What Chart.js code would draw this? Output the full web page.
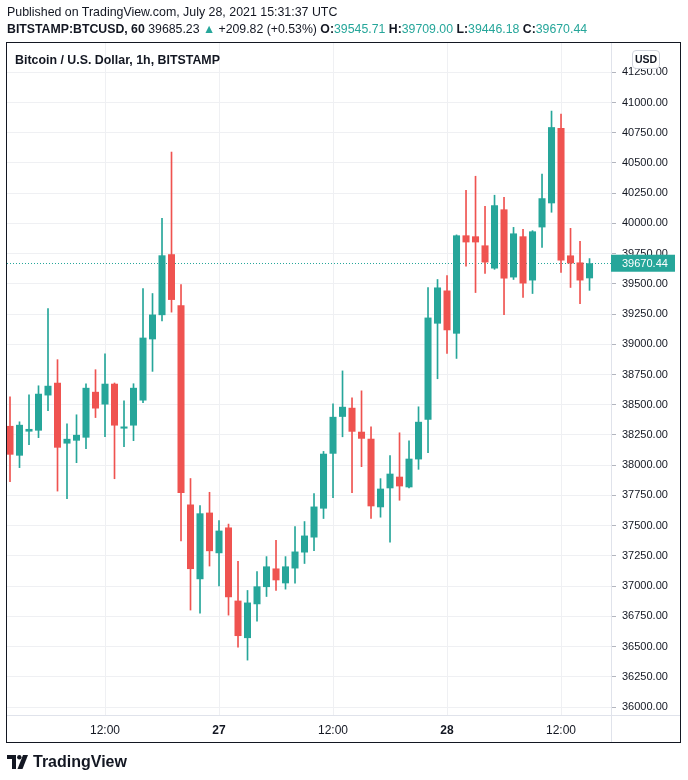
<!DOCTYPE html>
<html>
<head>
<meta charset="utf-8">
<script src="https://cdn.jsdelivr.net/npm/chart.js@4.4.0/dist/chart.umd.min.js"></script>
<style>
  html, body { margin: 0; padding: 0; background: #fff; }
  #wrap { position: relative; width: 688px; height: 780px; overflow: hidden;
          font-family: "Liberation Sans", Arial, sans-serif; color: #131722; }
  #chart { position: absolute; left: 0; top: 0; }
  .line1 { position: absolute; left: 7px; top: 4px; font-size: 12.4px; line-height: 16px; white-space: nowrap; }
  .line2 { position: absolute; left: 7px; top: 21px; font-size: 12.3px; line-height: 16px; white-space: nowrap; }
  .up { color: #26a69a; }
  #frame { position: absolute; left: 6px; top: 42px; width: 673px; height: 699px;
           border: 1px solid #131722; pointer-events: none; }
  .title { position: absolute; left: 15px; top: 52px; font-size: 12.4px; line-height: 16px; font-weight: bold; }
  .usd { position: absolute; left: 632px; top: 50px; width: 26px; height: 17px; border: 1px solid #d1d4dc;
         border-radius: 4px; font-size: 10.5px; font-weight: bold; text-align: center; line-height: 17px; background: #fff; }
  .logo { position: absolute; left: 7px; top: 752px; height: 20px; font-size: 16px; font-weight: bold;
          display: flex; align-items: center; gap: 4px; }
</style>
</head>
<body>
<div id="wrap">
  <canvas id="chart" width="688" height="780"></canvas>
  <div class="line1">Published on TradingView.com, July 28, 2021 15:31:37 UTC</div>
  <div class="line2"><b>BITSTAMP:BTCUSD, 60</b> 39685.23 <span class="up">&#9650;</span> +209.82 (+0.53%) <b>O:</b><span class="up">39545.71</span> <b>H:</b><span class="up">39709.00</span> <b>L:</b><span class="up">39446.18</span> <b>C:</b><span class="up">39670.44</span></div>
  <div id="frame"></div>
  <div class="title">Bitcoin / U.S. Dollar, 1h, BITSTAMP</div>
  <div class="usd">USD</div>
  <div class="logo">
    <svg width="22" height="14" viewBox="0 0 22 14"><path d="M0 0h9v14h-4v-10h-5z" fill="#131722"/><circle cx="12.3" cy="2.2" r="2.2" fill="#131722"/><path d="M16 0h5l-5.5 14h-5z" fill="#131722"/></svg>
    <span>TradingView</span>
  </div>
</div>
<script>
// hourly candles, BITSTAMP BTC/USD
const times = [
  'Jul 26 02:00', 'Jul 26 03:00', 'Jul 26 04:00', 'Jul 26 05:00', 'Jul 26 06:00', 'Jul 26 07:00',
  'Jul 26 08:00', 'Jul 26 09:00', 'Jul 26 10:00', 'Jul 26 11:00', 'Jul 26 12:00', 'Jul 26 13:00',
  'Jul 26 14:00', 'Jul 26 15:00', 'Jul 26 16:00', 'Jul 26 17:00', 'Jul 26 18:00', 'Jul 26 19:00',
  'Jul 26 20:00', 'Jul 26 21:00', 'Jul 26 22:00', 'Jul 26 23:00',
  'Jul 27 00:00', 'Jul 27 01:00', 'Jul 27 02:00', 'Jul 27 03:00', 'Jul 27 04:00', 'Jul 27 05:00',
  'Jul 27 06:00', 'Jul 27 07:00', 'Jul 27 08:00', 'Jul 27 09:00', 'Jul 27 10:00', 'Jul 27 11:00',
  'Jul 27 12:00', 'Jul 27 13:00', 'Jul 27 14:00', 'Jul 27 15:00', 'Jul 27 16:00', 'Jul 27 17:00',
  'Jul 27 18:00', 'Jul 27 19:00', 'Jul 27 20:00', 'Jul 27 21:00', 'Jul 27 22:00', 'Jul 27 23:00',
  'Jul 28 00:00', 'Jul 28 01:00', 'Jul 28 02:00', 'Jul 28 03:00', 'Jul 28 04:00', 'Jul 28 05:00',
  'Jul 28 06:00', 'Jul 28 07:00', 'Jul 28 08:00', 'Jul 28 09:00', 'Jul 28 10:00', 'Jul 28 11:00',
  'Jul 28 12:00', 'Jul 28 13:00', 'Jul 28 14:00', 'Jul 28 15:00'
];

const opens = [
  38325, 38079, 38278, 38286, 38577, 38682, 38179, 38203, 38228, 38607, 38502, 38674, 38303, 38328, 38535, 39041,
  39241, 39745, 39322, 37675, 37057, 37608, 37272, 37485, 36880, 36570, 36850, 36992, 37146, 37023, 37146, 37278,
  37402, 37641, 38095, 38400, 38475, 38277, 38219, 37652, 37809, 37905, 37817, 38048, 38376, 39171, 39445, 39088,
  39901, 39893, 39818, 39627, 40116, 39553, 39893, 39528, 39967, 40166, 40788, 39735, 39677, 39545.71
];
const highs = [
  38566, 38359, 38582, 38657, 39296, 38873, 38342, 38417, 38674, 38790, 38922, 38680, 38533, 38674, 39461, 39420,
  40041, 40590, 39493, 37890, 37666, 37776, 37543, 37513, 37205, 36964, 37121, 37244, 37378, 37244, 37492, 37534,
  37765, 38114, 38508, 38780, 38557, 38615, 38318, 37889, 38079, 38268, 38202, 38483, 39470, 39536, 39569, 39905,
  40274, 40390, 40141, 40233, 40216, 39967, 39951, 39940, 40407, 40929, 40904, 39959, 39851, 39709.00
];
const lows = [
  37863, 37980, 38170, 38228, 38452, 37786, 37723, 38021, 38137, 38394, 38237, 37888, 38154, 38203, 38518, 38776,
  39194, 39266, 37373, 36802, 36777, 37166, 37001, 36760, 36494, 36388, 36710, 36914, 36964, 36975, 37025, 37187,
  37294, 37559, 37732, 38235, 37773, 37988, 37559, 37570, 37363, 37710, 37812, 37966, 38103, 38715, 38925, 38883,
  39646, 39428, 39586, 39620, 39246, 39536, 39387, 39420, 39801, 40092, 39594, 39470, 39337, 39446.18
];
const closes = [
  38087, 38334, 38300, 38591, 38657, 38145, 38218, 38251, 38640, 38469, 38674, 38328, 38320, 38640, 39055, 39246,
  39736, 39367, 37770, 37141, 37602, 37289, 37459, 36908, 36587, 36864, 36998, 37163, 37048, 37163, 37286, 37418,
  37658, 38095, 38400, 38483, 38277, 38219, 37660, 37806, 37930, 37825, 38054, 38359, 39221, 39470, 39116, 39901,
  39843, 39843, 39677, 40150, 39544, 39917, 39503, 39934, 40208, 40796, 39694, 39669, 39528, 39670.44
];

const lastPrice = 39670.44;
const priceTicks = [
  36000, 36250, 36500, 36750, 37000, 37250, 37500, 37750, 38000, 38250, 38500,
  38750, 39000, 39250, 39500, 39750, 40000, 40250, 40500, 40750, 41000, 41250
];
const timeTicks = ['Jul 26 12:00', 'Jul 27 00:00', 'Jul 27 12:00', 'Jul 28 00:00', 'Jul 28 12:00'];
const timeTickLabels = ['12:00', '27', '12:00', '28', '12:00'];

const UP = '#26a69a';
const DOWN = '#ef5350';

// hours since Jul 26 00:00
function toHour(t) {
  const parts = t.split(' ');
  return (parseInt(parts[1]) - 26) * 24 + parseInt(parts[2]);
}

const xs = times.map(toHour);
const tickXs = timeTicks.map(toHour);
const colors = closes.map((c, i) => c >= opens[i] ? UP : DOWN);

const overlay = {
  id: 'overlay',
  beforeDatasetsDraw(chart) {
    const { ctx, chartArea: a, scales: { y } } = chart;
    const py = Math.round(y.getPixelForValue(lastPrice)) + 0.5;
    ctx.save();
    ctx.strokeStyle = UP;
    ctx.lineWidth = 1;
    ctx.setLineDash([1, 2]);
    ctx.beginPath();
    ctx.moveTo(a.left, py);
    ctx.lineTo(a.right, py);
    ctx.stroke();
    ctx.restore();
  },
  afterDraw(chart) {
    const { ctx, chartArea: a, scales: { y } } = chart;
    ctx.save();
    // pane separators
    ctx.strokeStyle = '#e0e3eb';
    ctx.lineWidth = 1;
    ctx.beginPath();
    ctx.moveTo(a.left, a.bottom + 0.5);
    ctx.lineTo(chart.width - 7, a.bottom + 0.5);
    ctx.moveTo(a.right + 0.5, a.top);
    ctx.lineTo(a.right + 0.5, chart.height - 37);
    ctx.stroke();
    // last price tag
    const py = y.getPixelForValue(lastPrice);
    ctx.fillStyle = UP;
    ctx.fillRect(a.right, py - 8.5, 64, 17);
    ctx.fillStyle = '#ffffff';
    ctx.font = '11px "Liberation Sans", Arial, sans-serif';
    ctx.textBaseline = 'middle';
    ctx.fillText(lastPrice.toFixed(2), a.right + 11, py + 0.5);
    ctx.restore();
  }
};

Chart.defaults.font.family = '"Liberation Sans", Arial, sans-serif';
Chart.defaults.color = '#131722';

new Chart(document.getElementById('chart'), {
  type: 'bar',
  data: {
    datasets: [
      {
        label: 'wick',
        data: xs.map((x, i) => ({ x: x, y: [lows[i], highs[i]] })),
        backgroundColor: colors,
        barThickness: 1,
        grouped: false,
        order: 2
      },
      {
        label: 'body',
        data: xs.map((x, i) => ({ x: x, y: [opens[i], closes[i]] })),
        backgroundColor: colors,
        barPercentage: 0.74,
        categoryPercentage: 1,
        grouped: false,
        order: 1
      }
    ]
  },
  options: {
    responsive: false,
    animation: false,
    layout: { padding: { left: 7, top: 43, right: 7, bottom: 37 } },
    plugins: { legend: { display: false }, tooltip: { enabled: false } },
    scales: {
      x: {
        type: 'linear',
        min: 1.684,
        max: 65.26,
        offset: false,
        afterBuildTicks: s => { s.ticks = tickXs.map(v => ({ value: v })); },
        afterFit: s => { s.height = 28; },
        border: { display: false },
        grid: { color: '#eff0f3', drawTicks: false, offset: false },
        ticks: {
          autoSkip: false,
          maxRotation: 0,
          padding: 8,
          color: '#131722',
          font: c => ({ size: 12, weight: (c.tick && String(c.tick.label).indexOf(':') < 0) ? 'bold' : 'normal' }),
          callback: v => timeTickLabels[tickXs.indexOf(v)]
        }
      },
      y: {
        position: 'right',
        min: 35934,
        max: 41492,
        afterBuildTicks: s => { s.ticks = priceTicks.map(v => ({ value: v })); },
        afterFit: s => { s.width = 70; },
        border: { display: false },
        grid: { color: '#eff0f3', tickColor: '#b2b5be', tickLength: 5 },
        ticks: {
          padding: 6,
          color: '#131722',
          font: { size: 11 },
          callback: v => v.toFixed(2)
        }
      }
    }
  },
  plugins: [overlay]
});
</script>
</body>
</html>
